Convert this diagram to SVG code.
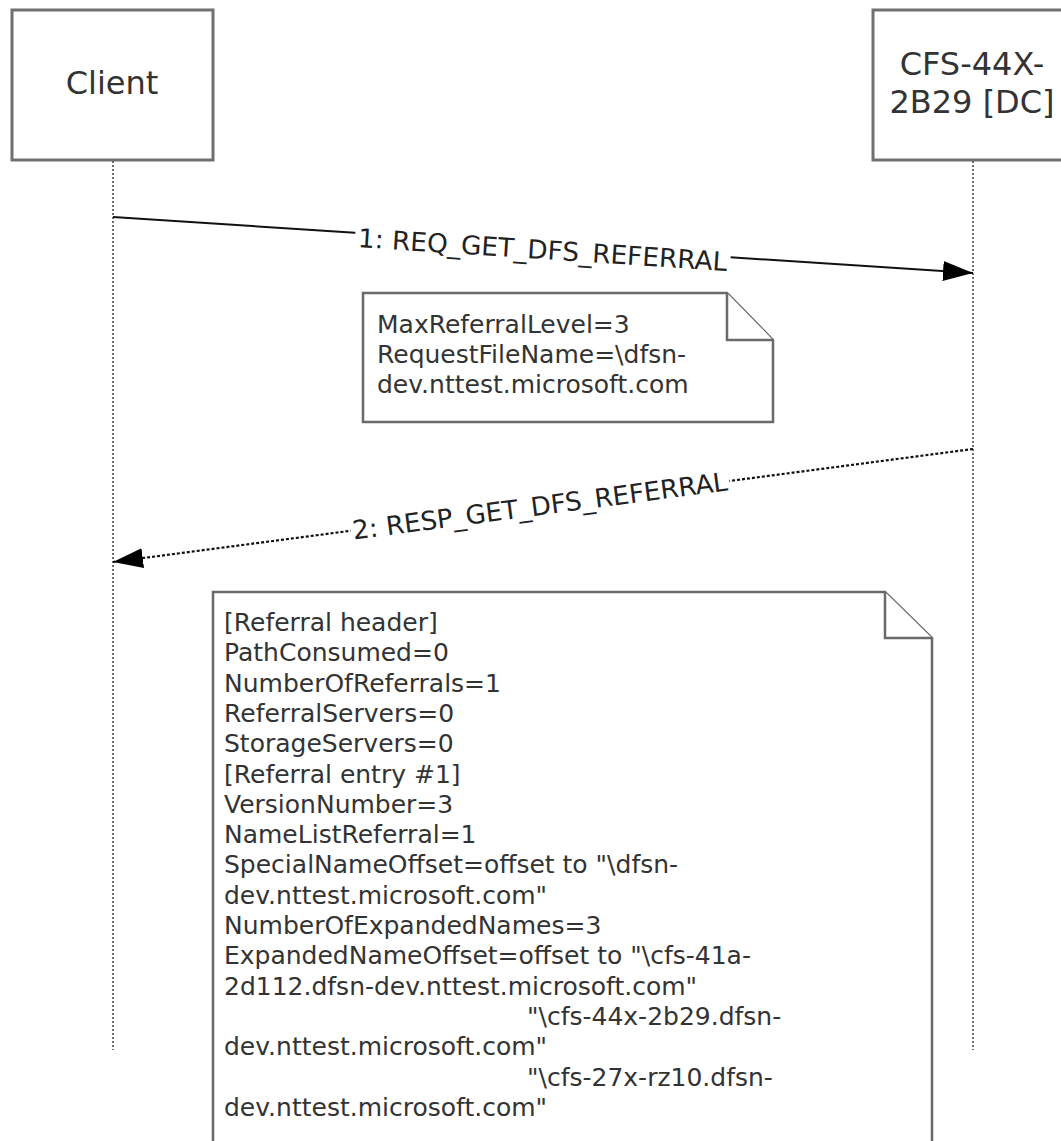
<svg xmlns="http://www.w3.org/2000/svg" width="1061" height="1141" viewBox="0 0 1061 1141">
<defs>
<style>
.box{fill:#fff;stroke:#707070;stroke-width:3}
.note{fill:#fff;stroke:#6a6a6a;stroke-width:2.5}
.life{stroke:#6e6e6e;stroke-width:2;stroke-dasharray:2 2;fill:none}
.t{font-family:"DejaVu Sans","Liberation Sans",sans-serif;fill:#333}
.lbl{font-size:32px;text-anchor:middle}
.nt{font-size:25px}
.ml{font-size:26px;text-anchor:middle;fill:#222}
.msg{stroke:#111;stroke-width:2;fill:none}
.dash{stroke-dasharray:3 2;stroke-width:2.2}
</style>
<marker id="ah" markerUnits="userSpaceOnUse" markerWidth="30" markerHeight="20" refX="30" refY="10" orient="auto" viewBox="0 0 30 20">
<path d="M0,0 L30,10 L0,20 z" fill="#000"/>
</marker>
</defs>
<rect width="1061" height="1141" fill="#fff"/>
<g id="lifelines">
<line class="life" x1="113" y1="161" x2="113" y2="1050"/>
<line class="life" x1="973" y1="161" x2="973" y2="1050"/>
</g>
<g id="client">
<rect class="box" x="12" y="10" width="201" height="150"/>
<text class="t lbl" x="112" y="94">Client</text>
</g>
<g id="server">
<rect class="box" x="873" y="10" width="201" height="150"/>
<text class="t lbl" x="972" y="75">CFS-44X-</text>
<text class="t lbl" x="972" y="113">2B29 [DC]</text>
</g>
<g id="connectors">
<line class="msg" x1="113" y1="217" x2="973" y2="273" marker-end="url(#ah)"/>
<g transform="translate(543,245) rotate(3.7)">
<rect x="-188" y="-6" width="376" height="24" fill="#fff"/>
<text class="t ml" x="0" y="14" textLength="370" lengthAdjust="spacingAndGlyphs">1: REQ_GET_DFS_REFERRAL</text>
</g>
<line class="msg dash" x1="973" y1="449" x2="113" y2="562" marker-end="url(#ah)"/>
<g transform="translate(540,506) rotate(-7.49)">
<rect x="-191" y="-10" width="382" height="22" fill="#fff"/>
<text class="t ml" x="0" y="9" textLength="378" lengthAdjust="spacingAndGlyphs">2: RESP_GET_DFS_REFERRAL</text>
</g>
</g>
<g id="note1">
<path class="note" d="M363,293 H727 L773,340 V422 H363 Z"/>
<path class="note" d="M727,293 V340 H773" fill="none"/>
<text class="t nt" x="377">
<tspan x="377" y="333">MaxReferralLevel=3</tspan>
<tspan x="377" y="363">RequestFileName=\dfsn-</tspan>
<tspan x="377" y="393">dev.nttest.microsoft.com</tspan>
</text>
</g>
<g id="note2">
<path class="note" d="M213,1145 V592 H885 L932,638 V1145"/>
<path class="note" d="M885,592 V638 H932" fill="none"/>
<text class="t nt">
<tspan x="224" y="631">[Referral header]</tspan>
<tspan x="224" y="661.3">PathConsumed=0</tspan>
<tspan x="224" y="691.6">NumberOfReferrals=1</tspan>
<tspan x="224" y="721.9">ReferralServers=0</tspan>
<tspan x="224" y="752.2">StorageServers=0</tspan>
<tspan x="224" y="782.5">[Referral entry #1]</tspan>
<tspan x="224" y="812.8">VersionNumber=3</tspan>
<tspan x="224" y="843.1">NameListReferral=1</tspan>
<tspan x="224" y="873.4">SpecialNameOffset=offset to "\dfsn-</tspan>
<tspan x="224" y="903.7">dev.nttest.microsoft.com"</tspan>
<tspan x="224" y="934">NumberOfExpandedNames=3</tspan>
<tspan x="224" y="964.3">ExpandedNameOffset=offset to "\cfs-41a-</tspan>
<tspan x="224" y="994.6">2d112.dfsn-dev.nttest.microsoft.com"</tspan>
<tspan x="527" y="1024.9">"\cfs-44x-2b29.dfsn-</tspan>
<tspan x="224" y="1055.2">dev.nttest.microsoft.com"</tspan>
<tspan x="527" y="1085.5">"\cfs-27x-rz10.dfsn-</tspan>
<tspan x="224" y="1115.8">dev.nttest.microsoft.com"</tspan>
</text>
</g>
</svg>
